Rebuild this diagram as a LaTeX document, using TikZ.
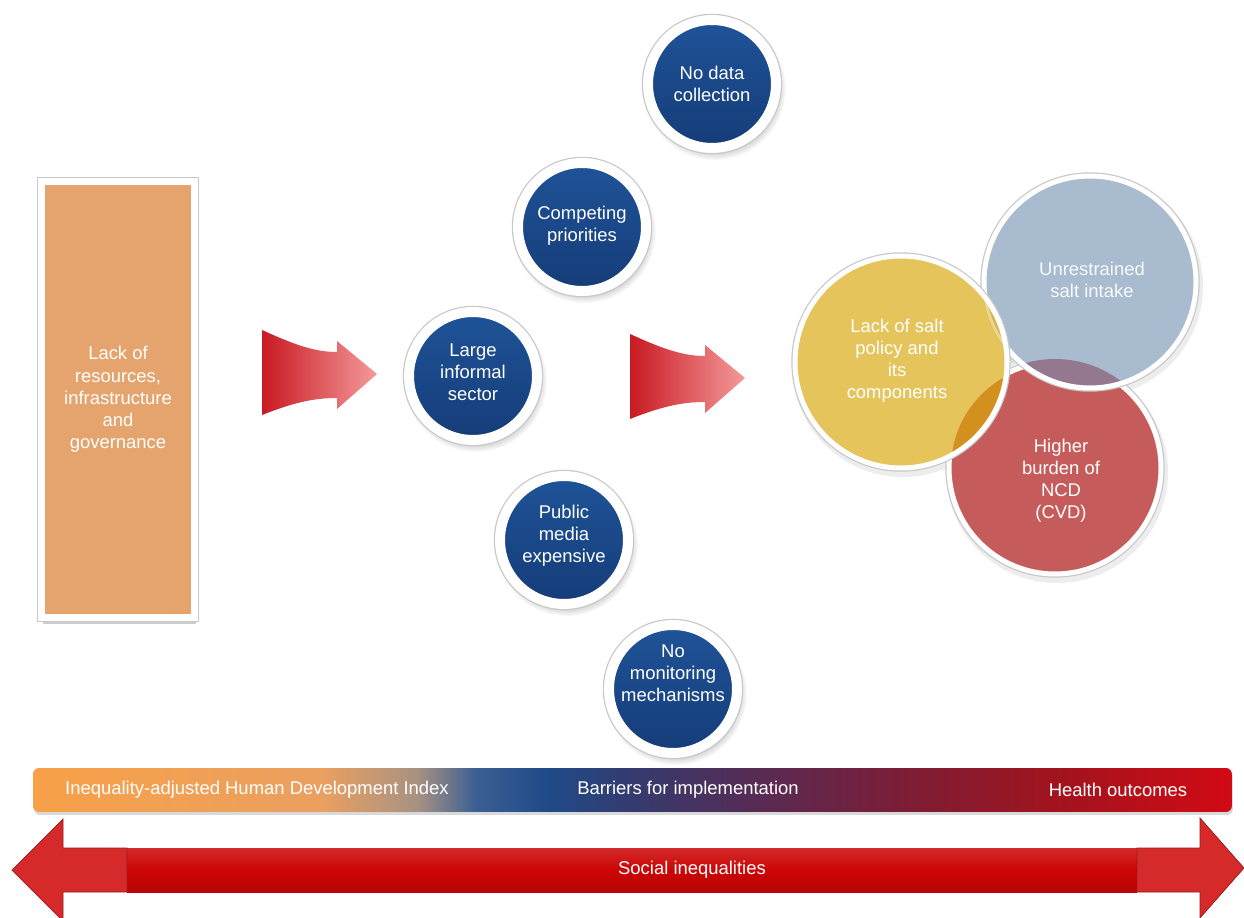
\documentclass[tikz,border=0pt]{standalone}
\usepackage{fontspec}
\setmainfont{Liberation Sans}
\usetikzlibrary{shadows,fadings}
\definecolor{bluetop}{HTML}{1F5398}
\definecolor{bluebot}{HTML}{153C78}
\definecolor{rectorange}{HTML}{E5A46D}
\definecolor{vennyellow}{HTML}{E4C45B}
\definecolor{vennblue}{HTML}{A9BBCE}
\definecolor{vennred}{HTML}{C55B5B}
\definecolor{vennpurple}{HTML}{937890}
\definecolor{vennorange}{HTML}{D4901F}
\definecolor{venndarkyel}{HTML}{D6B752}
\definecolor{arrowL}{HTML}{C81A22}
\definecolor{arrowR}{HTML}{F49A9A}
\definecolor{shaftred}{HTML}{CC0505}
\definecolor{headred}{HTML}{D62A2A}
\definecolor{edgegray}{HTML}{C8C8C8}
\definecolor{b0}{HTML}{F7A048}
\definecolor{b1}{HTML}{EBA060}
\definecolor{b2}{HTML}{A89282}
\definecolor{b3}{HTML}{3A5E92}
\definecolor{b4}{HTML}{1F4A88}
\definecolor{b5}{HTML}{38396C}
\definecolor{b6}{HTML}{5A2A52}
\definecolor{b7}{HTML}{7A1E38}
\definecolor{b8}{HTML}{A0141E}
\definecolor{b9}{HTML}{D20A14}
\pgfdeclarehorizontalshading{barshade}{100bp}{color(0bp)=(b0); color(25bp)=(b0); color(37bp)=(b1); color(41bp)=(b2); color(43.5bp)=(b3); color(46.5bp)=(b4); color(50.5bp)=(b5); color(55.5bp)=(b6); color(61bp)=(b7); color(67.5bp)=(b8); color(75bp)=(b9); color(100bp)=(b9)}
\tikzset{
  bluering/.style={circle, minimum size=2.56cm, inner sep=0pt, top color=bluetop, bottom color=bluebot, draw=white, line width=0.2cm,
    circular drop shadow={shadow xshift=0.04cm, shadow yshift=-0.08cm, shadow scale=1.12, opacity=0.45},
    preaction={draw=edgegray, line width=0.2cm+1.4pt}},
  wtext/.style={text=white, align=center, inner sep=0pt},
  fisharrow/.style={left color=arrowL, right color=arrowR, draw=none},
  venn/.style={line width=0.1cm, draw=white},
  vennedge/.style={line width=0.1cm+1.4pt, draw=edgegray}
}
\begin{document}
\begin{tikzpicture}[x=0.02cm, y=-0.02cm, font=\fontsize{10.5}{12.6}\selectfont]
\useasboundingbox (0,0) rectangle (1244,918);

% left box
\node[draw=white, line width=0.14cm, fill=rectorange, minimum width=3.06cm, minimum height=8.72cm,
  drop shadow={shadow xshift=0.03cm, shadow yshift=-0.14cm, opacity=0.4},
  preaction={draw=edgegray, line width=0.14cm+1.4pt},
  text=white, align=center] (res) at (118,399.5)
  {Lack of\\resources,\\infrastructure\\and\\governance};

% fish arrows
\path[fisharrow] (262,330) .. controls (295,345) and (315,352) .. (337,352) -- (337,341) -- (377,374) -- (337,409) -- (337,398) .. controls (315,398) and (295,402) .. (262,415) -- cycle;
\begin{scope}[shift={(368,4)}]
\path[fisharrow] (262,330) .. controls (295,345) and (315,352) .. (337,352) -- (337,341) -- (377,374) -- (337,409) -- (337,398) .. controls (315,398) and (295,402) .. (262,415) -- cycle;
\end{scope}

% blue circles
\node[bluering] (c1) at (712,84) {};
\node[bluering] (c2) at (582,227) {};
\node[bluering] (c3) at (473,376) {};
\node[bluering] (c4) at (564,540) {};
\node[bluering] (c5) at (673,689) {};
\node[wtext] (t1) at (712,84) {No data\\collection};
\node[wtext] (t2) at (582,226) {Competing\\priorities};
\node[wtext] (t3) at (473,372) {Large\\informal\\sector};
\node[wtext] (t4) at (564,536) {Public\\media\\expensive};
\node[wtext] (t5) at (673,673) {No\\monitoring\\mechanisms};

% venn
\coordinate (ycen) at (901,362);
\coordinate (bcen) at (1090,282);
\coordinate (rcen) at (1055,468);
\fill[black, opacity=0.07] ([shift={(2,4)}]rcen) circle[radius=111];
\fill[black, opacity=0.07] ([shift={(2,4)}]bcen) circle[radius=111];
\fill[black, opacity=0.07] ([shift={(2,4)}]ycen) circle[radius=111];
\draw[vennedge] (rcen) circle[radius=106];
\fill[vennred] (rcen) circle[radius=106];
\draw[venn] (rcen) circle[radius=106];
\draw[vennedge] (bcen) circle[radius=106];
\fill[vennblue] (bcen) circle[radius=106];
\begin{scope}
  \clip (bcen) circle[radius=106];
  \fill[vennpurple] (rcen) circle[radius=109];
\end{scope}
\draw[venn] (bcen) circle[radius=106];
\draw[vennedge] (ycen) circle[radius=106];
\fill[vennyellow] (ycen) circle[radius=106];
\begin{scope}
  \clip (ycen) circle[radius=106];
  \fill[vennorange] (rcen) circle[radius=104];
  \fill[venndarkyel] (bcen) circle[radius=108];
  \draw[vennyellow!70!white, line width=0.06cm] (bcen) circle[radius=106];
\end{scope}
\draw[venn] (ycen) circle[radius=106];
\node[wtext, text=white!92!vennblue] (v1) at (1092,280) {Unrestrained\\salt intake};
\node[wtext] (v2) at (897,361) {Lack of salt\\policy and\\its\\components};
\node[wtext] (v3) at (1061,481) {Higher\\burden of\\NCD\\(CVD)};

% gradient bar
\node[shade, shading=barshade, rounded corners=0.12cm, minimum width=23.98cm, minimum height=0.88cm, inner sep=0pt,
  drop shadow={shadow xshift=0.02cm, shadow yshift=-0.06cm, opacity=0.3}] (bar) at (632.5,790) {};
\node[wtext] (bl) at (257,790) {Inequality-adjusted Human Development Index};
\node[wtext] (bm) at (688,790) {Barriers for implementation};
\node[wtext] (br) at (1118,790) {Health outcomes};

% double arrow
\shade[top color=shaftred!85!white, bottom color=shaftred!90!black, middle color=shaftred] (127,848) rectangle (1137,892);
\fill[headred, draw=headred!70!black, line width=0.4pt] (12,870) -- (63,819) -- (63,848) -- (127,848) -- (127,892) -- (63,892) -- (63,921) -- cycle;
\fill[headred, draw=headred!70!black, line width=0.4pt] (1244,868) -- (1200,818) -- (1200,848) -- (1137,848) -- (1137,892) -- (1200,892) -- (1200,918) -- cycle;
\node[wtext] (si) at (692,870) {Social inequalities};
\end{tikzpicture}
\end{document}
